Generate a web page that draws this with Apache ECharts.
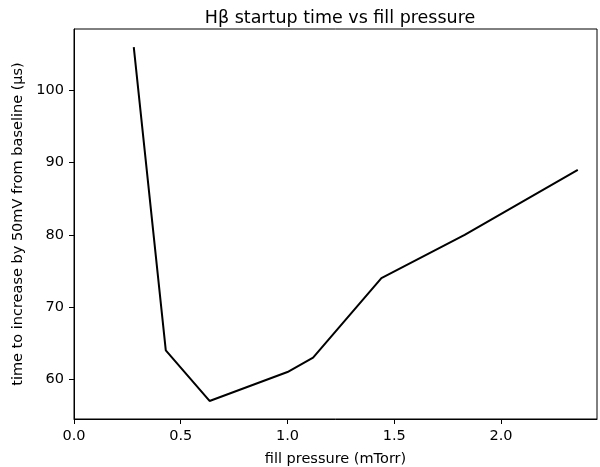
<!DOCTYPE html>
<html>
<head>
<meta charset="utf-8">
<script src="https://cdn.jsdelivr.net/npm/echarts@6/dist/echarts.min.js"></script>
<style>
  html, body { margin: 0; padding: 0; background: #fff; }
  #chart { width: 600px; height: 467px; }
</style>
</head>
<body>
<div id="chart"></div>
<script>
// fill pressure (mTorr) and startup time (us)
var pressure = [0.28, 0.43, 0.635, 1.0, 1.12, 1.44, 1.83, 2.36];
var startTime = [106, 64, 57, 61, 63, 74, 80, 89];
var xTicks = [0, 0.5, 1.0, 1.5, 2.0];
var yTicks = [60, 70, 80, 90, 100];

var font = 'DejaVu Sans';
var myChart = echarts.init(document.getElementById('chart'), null, { renderer: 'canvas' });

var points = [];
for (var i = 0; i < pressure.length; i++) {
    points.push([pressure[i], startTime[i]]);
}

var option = {
    backgroundColor: '#fff',
    animation: false,
    title: {
        text: 'H\u03b2 startup time vs fill pressure',
        left: 335,
        top: 4,
        textAlign: 'center',
        textStyle: { fontFamily: font, fontSize: 17.5, fontWeight: 'normal', color: '#000' }
    },
    grid: {
        left: 74, right: 3, top: 29, bottom: 48,
        outerBoundsMode: 'none',
        containLabel: false,
        show: true, borderColor: '#000', borderWidth: 1
    },
    xAxis: {
        type: 'value',
        min: 0, max: 2.45,
        name: 'fill pressure (mTorr)',
        nameLocation: 'middle',
        nameGap: 33,
        nameTextStyle: { fontFamily: font, fontSize: 14.5, color: '#000' },
        axisLine: { show: true, onZero: false, lineStyle: { color: '#000', width: 1 } },
        axisTick: { show: true, length: 5, customValues: xTicks, lineStyle: { color: '#000' } },
        axisLabel: {
            margin: 10, fontFamily: font, fontSize: 14.5, color: '#000',
            customValues: xTicks,
            formatter: function (v) { return v.toFixed(1); }
        },
        splitLine: { show: false }
    },
    yAxis: {
        type: 'value',
        min: 54.5, max: 108.5,
        name: 'time to increase by 50mV from baseline (\u00b5s)',
        nameLocation: 'middle',
        nameGap: 47,
        nameRotate: 90,
        nameTextStyle: { fontFamily: font, fontSize: 14.5, color: '#000' },
        axisLine: { show: true, onZero: false, lineStyle: { color: '#000', width: 1 } },
        axisTick: { show: true, length: 5, customValues: yTicks, lineStyle: { color: '#000' } },
        axisLabel: {
            margin: 10, fontFamily: font, fontSize: 14.5, color: '#000',
            customValues: yTicks
        },
        splitLine: { show: false }
    },
    series: [{
        type: 'line',
        data: points,
        showSymbol: false,
        symbol: 'none',
        lineStyle: { color: '#000', width: 2 }
    }]
};

myChart.setOption(option);
</script>
</body>
</html>
